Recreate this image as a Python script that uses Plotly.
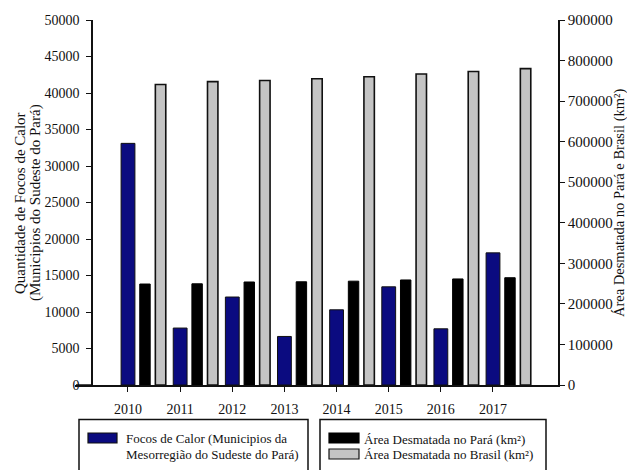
import plotly.graph_objects as go

anos = [2010, 2011, 2012, 2013, 2014, 2015, 2016, 2017]
focos_calor = [33100, 7800, 12050, 6650, 10300, 13450, 7700, 18100]
area_para = [249000, 249500, 254000, 254500, 256000, 259000, 261500, 264500]
area_brasil = [741000, 748000, 751000, 755000, 760000, 767000, 773000, 780000]

FONT = "'Liberation Serif', 'Times New Roman', serif"
W, H = 627, 470
ML, MR, MT, MB = 75, 69, 20, 85
PW = W - ML - MR
PH = H - MT - MB


def px_x(p):
    return (p - ML) / PW


def px_y(p):
    return (H - MB - p) / PH


fig = go.Figure()
fig.add_trace(go.Bar(
    x=anos, y=focos_calor, yaxis="y", name="Focos de Calor",
    width=0.265, offset=-0.132,
    marker=dict(color="#0b0b80", line=dict(color="#111111", width=1)),
    showlegend=False, hoverinfo="skip",
))
fig.add_trace(go.Bar(
    x=anos, y=area_para, yaxis="y2", name="Área Desmatada no Pará (km²)",
    width=0.2, offset=0.226,
    marker=dict(color="#000000", line=dict(color="#000000", width=1)),
    showlegend=False, hoverinfo="skip",
))
fig.add_trace(go.Bar(
    x=anos, y=area_brasil, yaxis="y2", name="Área Desmatada no Brasil (km²)",
    width=0.2, offset=0.525,
    marker=dict(color="#c4c4c4", line=dict(color="#111111", width=1.6)),
    showlegend=False, hoverinfo="skip",
))


def tf(size):
    return dict(family=FONT, size=size, color="#111111")


fig.update_layout(
    width=W, height=H,
    margin=dict(l=ML, r=MR, t=MT, b=MB),
    paper_bgcolor="white", plot_bgcolor="white",
    barmode="overlay",
    font=dict(family=FONT, color="#111111"),
    xaxis=dict(
        range=[2008.984, 2018.247], tickmode="array", tickvals=anos,
        ticktext=[str(a) for a in anos],
        showline=True, linecolor="#111111", linewidth=1.5,
        ticks="outside", ticklen=5, tickcolor="#111111", tickwidth=1.2,
        ticklabelstandoff=5,
        showgrid=False, zeroline=False, tickfont=tf(14),
    ),
    yaxis=dict(
        range=[0, 50000], dtick=5000, anchor="free", position=px_x(92),
        tickformat="d", ticklabelstandoff=4,
        showline=True, linecolor="#111111", linewidth=1.5,
        ticks="outside", ticklen=5, tickcolor="#111111", tickwidth=1.2,
        showgrid=False, zeroline=False, tickfont=tf(14),
    ),
    yaxis2=dict(
        range=[0, 900000], dtick=100000, overlaying="y", side="right", anchor="x",
        tickformat="d",
        showline=True, linecolor="#111111", linewidth=1.5,
        ticks="outside", ticklen=5, tickcolor="#111111", tickwidth=1.2,
        showgrid=False, zeroline=False, tickfont=tf(15),
    ),
)

annots = []
# axis titles
for x, t, s in [(20, "Quantidade de Focos de Calor", 15),
                (35, "(Municipios do Sudeste do Pará)", 15),
                (619, "Área Desmatada no Pará e Brasil (km²)", 14.5)]:
    annots.append(dict(x=px_x(x), y=px_y(203), xref="paper", yref="paper",
                       text=t, textangle=-90, showarrow=False,
                       xanchor="center", yanchor="middle", font=tf(s)))

leg_texts = [
    (124, 438, "Focos de Calor (Municipios da"),
    (124, 455, "Mesorregião do Sudeste do Pará)"),
    (362, 439, "Área Desmatada no Pará (km²)"),
    (362, 455, "Área Desmatada no Brasil (km²)"),
]
for x, y, t in leg_texts:
    annots.append(dict(x=px_x(x), y=px_y(y), xref="paper", yref="paper", text=t,
                       showarrow=False, xanchor="left", yanchor="middle", font=tf(13)))
fig.update_layout(annotations=annots)

shapes = []
# legend boxes
for x0, x1 in [(79, 308), (320, 546)]:
    shapes.append(dict(type="rect", xref="paper", yref="paper",
                       x0=px_x(x0), x1=px_x(x1), y0=px_y(480), y1=px_y(419.5),
                       line=dict(color="#111111", width=1.5), fillcolor="rgba(0,0,0,0)"))
# legend swatches
swatches = [
    (88, 117, 433, 443, "#0b0b80", "#111111"),
    (329, 359, 433, 443, "#000000", "#000000"),
    (329, 359, 449, 459, "#c4c4c4", "#111111"),
]
for x0, x1, y0, y1, fc, lc in swatches:
    shapes.append(dict(type="rect", xref="paper", yref="paper",
                       x0=px_x(x0), x1=px_x(x1), y0=px_y(y1), y1=px_y(y0),
                       line=dict(color=lc, width=1.2), fillcolor=fc))
# baseline extension to the left of the y axis
shapes.append(dict(type="line", xref="paper", yref="paper",
                   x0=px_x(76), x1=px_x(92), y0=0, y1=0,
                   line=dict(color="#111111", width=1.5)))
fig.update_layout(shapes=shapes)

fig.write_html("out.html", config={"displayModeBar": False},
               post_script="document.body.style.margin='0';")
